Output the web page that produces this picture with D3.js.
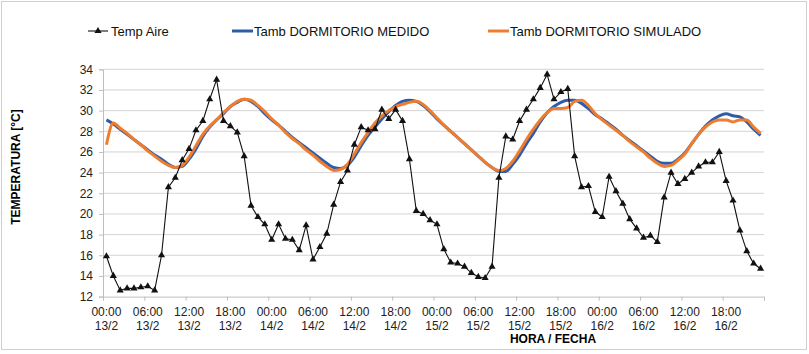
<!DOCTYPE html>
<html>
<head>
<meta charset="utf-8">
<script src="https://cdn.jsdelivr.net/npm/d3@7"></script>
<style>
  body { margin: 0; background: #fff; }
  svg { font-family: "Liberation Sans", Arial, sans-serif; }
</style>
</head>
<body>
<svg id="chart" width="809" height="354"></svg>
<script>
// hourly values, 13/2 00:00 .. 16/2 23:00
var tempAire = [
  15.9, 14.0, 12.6, 12.8, 12.8, 12.9, 13.0, 12.6, 16.0, 22.6, 23.5, 25.2,
  26.3, 28.1, 29.0, 31.1, 33.0, 29.0, 28.5, 27.9, 25.6, 20.8, 19.7, 19.0,
  17.5, 19.0, 17.6, 17.5, 16.5, 18.9, 15.6, 16.8, 18.1, 20.9, 23.1, 24.2,
  26.7, 28.4, 28.1, 28.2, 30.1, 29.2, 30.1, 29.0, 25.3, 20.3, 20.0, 19.4,
  19.0, 16.6, 15.3, 15.2, 14.9, 14.3, 13.9, 13.8, 14.9, 23.5, 27.5, 27.2,
  29.0, 30.1, 31.1, 32.2, 33.5, 31.1, 31.8, 32.1, 25.6, 22.6, 22.7, 20.2,
  19.7, 23.6, 22.2, 21.0, 19.5, 18.6, 17.7, 17.9, 17.3, 21.6, 24.0, 22.9,
  23.4, 24.0, 24.6, 25.0, 25.0, 26.0, 23.2, 21.3, 18.4, 16.4, 15.2, 14.7
];
var medido = [
  29.1, 28.7, 28.2, 27.7, 27.2, 26.7, 26.2, 25.7, 25.3, 24.8, 24.5, 24.6,
  25.3, 26.3, 27.5, 28.4, 29.1, 29.7, 30.4, 30.8, 31.1, 30.9, 30.4, 29.7,
  29.1, 28.6, 28.0, 27.4, 26.9, 26.4, 25.9, 25.4, 24.9, 24.5, 24.4, 24.7,
  25.5, 26.6, 27.6, 28.4, 29.2, 29.9, 30.5, 30.9, 31.0, 30.9, 30.5, 29.9,
  29.2, 28.6, 28.0, 27.4, 26.8, 26.2, 25.6, 25.0, 24.5, 24.1, 24.1, 24.8,
  25.7, 26.8, 27.8, 28.9, 29.8, 30.4, 30.8, 31.0, 31.0, 30.7, 30.2, 29.6,
  29.2, 28.7, 28.2, 27.6, 27.1, 26.6, 26.1, 25.6, 25.1, 24.9, 24.9, 25.3,
  25.9, 26.8, 27.7, 28.5, 29.1, 29.5, 29.7, 29.5, 29.4, 28.9, 28.2, 27.6
];
var simulado = [
  26.7, 28.8, 28.3, 27.8, 27.2, 26.7, 26.1, 25.6, 25.1, 24.7, 24.5, 24.7,
  25.5, 26.6, 27.7, 28.5, 29.1, 29.8, 30.4, 30.9, 31.1, 31.0, 30.5, 29.9,
  29.2, 28.6, 27.9, 27.3, 26.8, 26.2, 25.7, 25.1, 24.6, 24.2, 24.3, 24.8,
  25.8, 26.9, 27.9, 28.8, 29.5, 30.0, 30.4, 30.6, 30.8, 30.9, 30.6, 30.0,
  29.3, 28.6, 28.0, 27.4, 26.8, 26.2, 25.6, 25.0, 24.5, 24.2, 24.4, 25.1,
  26.1, 27.2, 28.2, 29.1, 29.8, 30.2, 30.2, 30.3, 30.9, 31.0, 30.5, 29.7,
  29.1, 28.6, 28.1, 27.6, 27.0, 26.5, 26.0, 25.4, 24.9, 24.6, 24.7, 25.2,
  25.8, 26.8, 27.7, 28.4, 28.9, 29.1, 29.1, 28.9, 29.1, 29.1, 28.4, 27.8
];
var horas = ["00:00", "06:00", "12:00", "18:00"];
var fechas = ["13/2", "14/2", "15/2", "16/2"];
var yTicks = [12, 14, 16, 18, 20, 22, 24, 26, 28, 30, 32, 34];
var seriesNames = ["Temp Aire", "Tamb DORMITORIO MEDIDO", "Tamb DORMITORIO SIMULADO"];

var svg = d3.select("#chart");
var plotLeft = 103, plotRight = 764, plotTop = 69.3, plotBottom = 296.6;
var nCat = tempAire.length;

// outer frame
svg.append("rect")
  .attr("x", 1.5).attr("y", 1.5).attr("width", 805).attr("height", 348)
  .attr("fill", "none").attr("stroke", "#d0d0d0");

var x = d3.scaleLinear().domain([0, nCat]).range([plotLeft, plotRight]);
var y = d3.scaleLinear().domain([12, 34]).range([plotBottom, plotTop]);

// gridlines
svg.append("g").selectAll("line")
  .data(yTicks.filter(d => d > 12))
  .enter().append("line")
  .attr("x1", plotLeft).attr("x2", plotRight)
  .attr("y1", d => y(d)).attr("y2", d => y(d))
  .attr("stroke", "#d4d4d4").attr("stroke-width", 1);

// y axis
var yAxis = svg.append("g")
  .attr("transform", "translate(" + plotLeft + ",0)")
  .call(d3.axisLeft(y).tickValues(yTicks).tickSize(4).tickPadding(6));
yAxis.select(".domain").attr("stroke", "#bfbfbf");
yAxis.selectAll(".tick line").attr("stroke", "#bfbfbf");
yAxis.selectAll("text").attr("font-size", 12).attr("fill", "#222")
  .attr("font-family", "Liberation Sans, Arial, sans-serif");

// x axis ticks at category boundaries
var xAxis = svg.append("g")
  .attr("transform", "translate(0," + plotBottom + ")")
  .call(d3.axisBottom(x).tickValues(d3.range(0, nCat + 1, 6)).tickSize(4).tickFormat(""));
xAxis.select(".domain").attr("stroke", "#bfbfbf");
xAxis.selectAll(".tick line").attr("stroke", "#bfbfbf");

// labels centered on categories
var labelHours = d3.range(0, nCat, 6);
var lbl = svg.append("g").selectAll("text")
  .data(labelHours)
  .enter().append("text")
  .attr("text-anchor", "middle")
  .attr("font-size", 12)
  .attr("fill", "#222")
  .attr("x", d => x(d + 0.5));
lbl.append("tspan").attr("y", 316).text(d => horas[(d / 6) % 4]);
lbl.append("tspan").attr("x", d => x(d + 0.5)).attr("y", 330).text(d => fechas[Math.floor(d / 24)]);

// axis titles
svg.append("text")
  .attr("x", 553).attr("y", 343)
  .attr("text-anchor", "middle")
  .attr("font-size", 12).attr("font-weight", "bold")
  .text("HORA / FECHA");
svg.append("text")
  .attr("transform", "translate(20,167) rotate(-90)")
  .attr("text-anchor", "middle")
  .attr("font-size", 12).attr("font-weight", "bold")
  .text("TEMPERATURA [°C]");

var line = d3.line()
  .x((d, i) => x(i + 0.5))
  .y(d => y(d));

svg.append("path").datum(medido)
  .attr("d", line.curve(d3.curveMonotoneX))
  .attr("fill", "none").attr("stroke", "#2f5ca8").attr("stroke-width", 3);
svg.append("path").datum(simulado)
  .attr("d", line.curve(d3.curveMonotoneX))
  .attr("fill", "none").attr("stroke", "#ee7d2f").attr("stroke-width", 3);

svg.append("path").datum(tempAire)
  .attr("d", line.curve(d3.curveLinear))
  .attr("fill", "none").attr("stroke", "#111").attr("stroke-width", 1.1);

var tri = d3.symbol().type(d3.symbolTriangle).size(22);
svg.append("g").selectAll("path")
  .data(tempAire)
  .enter().append("path")
  .attr("d", tri)
  .attr("transform", (d, i) => "translate(" + x(i + 0.5) + "," + y(d) + ")")
  .attr("fill", "#111");

// legend
var legX = [88, 232, 488];
var legColors = ["#111", "#2f5ca8", "#ee7d2f"];
var leg = svg.append("g").selectAll("g")
  .data(seriesNames)
  .enter().append("g")
  .attr("transform", (d, i) => "translate(" + legX[i] + ",31)");
leg.append("line")
  .attr("x1", 0).attr("x2", (d, i) => i == 0 ? 20 : 21)
  .attr("stroke", (d, i) => legColors[i])
  .attr("stroke-width", (d, i) => i == 0 ? 1.1 : 3);
leg.filter((d, i) => i == 0).append("path")
  .attr("d", tri).attr("transform", "translate(10,0)").attr("fill", "#111");
leg.append("text")
  .attr("x", (d, i) => i == 0 ? 23 : 22)
  .attr("y", 4.5)
  .attr("font-size", 13)
  .attr("fill", "#111")
  .text(d => d);
</script>
</body>
</html>
